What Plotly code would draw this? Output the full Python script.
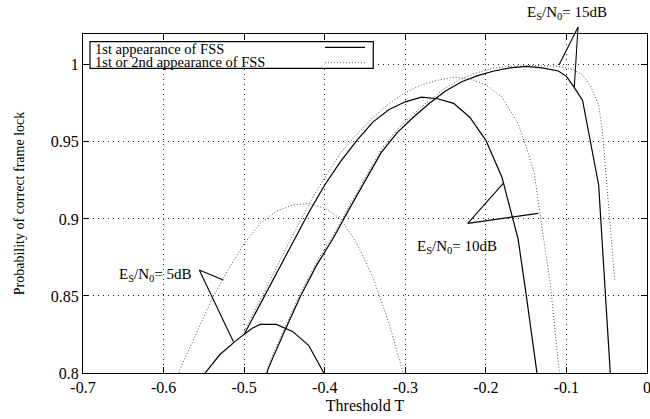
import plotly.graph_objects as go

# ---- data ----
x_5db_first = [-0.56, -0.55, -0.53, -0.51, -0.49, -0.48, -0.46, -0.44, -0.42, -0.40, -0.39]
y_5db_first = [0.790, 0.799, 0.812, 0.821, 0.829, 0.8315, 0.8315, 0.827, 0.818, 0.799, 0.785]

x_5db_either = [-0.59, -0.58, -0.56, -0.54, -0.52, -0.50, -0.48, -0.46, -0.44, -0.42, -0.40,
                -0.38, -0.36, -0.34, -0.32, -0.30, -0.29]
y_5db_either = [0.785, 0.802, 0.825, 0.848, 0.867, 0.884, 0.897, 0.905, 0.909, 0.910, 0.907,
                0.900, 0.884, 0.862, 0.832, 0.795, 0.770]

x_10db_first = [-0.50, -0.48, -0.46, -0.44, -0.42, -0.40, -0.38, -0.36, -0.34, -0.32, -0.30,
                -0.28, -0.26, -0.24, -0.22, -0.20, -0.18, -0.17, -0.16, -0.15, -0.14, -0.13]
y_10db_first = [0.825, 0.845, 0.865, 0.885, 0.904, 0.922, 0.9375, 0.951, 0.963, 0.971, 0.976,
                0.979, 0.978, 0.975, 0.966, 0.951, 0.927, 0.907, 0.887, 0.851, 0.812, 0.775]

x_10db_either = [-0.50, -0.48, -0.46, -0.44, -0.42, -0.40, -0.38, -0.36, -0.34, -0.32, -0.30,
                 -0.28, -0.26, -0.24, -0.22, -0.20, -0.18, -0.16, -0.15, -0.14, -0.13, -0.12,
                 -0.11, -0.10]
y_10db_either = [0.827, 0.848, 0.868, 0.889, 0.909, 0.927, 0.943, 0.955, 0.966, 0.975, 0.982,
                 0.987, 0.990, 0.992, 0.991, 0.987, 0.979, 0.962, 0.947, 0.930, 0.893, 0.858,
                 0.806, 0.770]

x_15db_first = [-0.48, -0.47, -0.45, -0.43, -0.41, -0.39, -0.37, -0.35, -0.33, -0.31, -0.29,
                -0.27, -0.25, -0.23, -0.21, -0.19, -0.17, -0.15, -0.13, -0.11, -0.10, -0.09,
                -0.08, -0.06, -0.045]
y_15db_first = [0.785, 0.803, 0.827, 0.850, 0.870, 0.887, 0.906, 0.925, 0.943, 0.956, 0.966,
                0.975, 0.983, 0.989, 0.993, 0.996, 0.998, 0.999, 0.998, 0.996, 0.9925, 0.985,
                0.977, 0.922, 0.795]

x_15db_either = [-0.48, -0.47, -0.45, -0.43, -0.41, -0.39, -0.37, -0.35, -0.33, -0.31, -0.29,
                 -0.27, -0.25, -0.23, -0.21, -0.19, -0.17, -0.15, -0.13, -0.11, -0.10, -0.09,
                 -0.08, -0.07, -0.06, -0.055, -0.05, -0.045, -0.04]
y_15db_either = [0.787, 0.805, 0.829, 0.852, 0.872, 0.889, 0.908, 0.927, 0.945, 0.958, 0.968,
                 0.977, 0.985, 0.991, 0.995, 0.998, 0.999, 0.9995, 0.9995, 0.999, 0.998, 0.9965,
                 0.9935, 0.986, 0.974, 0.955, 0.925, 0.890, 0.860]

x_ticks = [-0.7, -0.6, -0.5, -0.4, -0.3, -0.2, -0.1, 0]
x_tick_text = ["-0.7", "-0.6", "-0.5", "-0.4", "-0.3", "-0.2", "-0.1", "0"]
y_ticks = [0.8, 0.85, 0.9, 0.95, 1.0]
y_tick_text = ["0.8", "0.85", "0.9", "0.95", "1"]

legend_labels = ["1st appearance of FSS", "1st or 2nd appearance of FSS"]
snr_labels = ["E<sub>S</sub>/N<sub>0</sub>= 5dB", "E<sub>S</sub>/N<sub>0</sub>= 10dB",
              "E<sub>S</sub>/N<sub>0</sub>= 15dB"]

X_RANGE = [-0.7, 0.0]
Y_RANGE = [0.8, 1.02]

FONT = "Liberation Serif, Times New Roman, serif"
SOLID = dict(color="black", width=1.2)
DOTTED = dict(color="#555555", width=1.0, dash="1px,2px")

fig = go.Figure()
for xs, ys in [(x_5db_first, y_5db_first), (x_10db_first, y_10db_first),
               (x_15db_first, y_15db_first)]:
    fig.add_trace(go.Scatter(x=xs, y=ys, mode="lines", line=SOLID,
                             name=legend_labels[0], showlegend=False))
for xs, ys in [(x_5db_either, y_5db_either), (x_10db_either, y_10db_either),
               (x_15db_either, y_15db_either)]:
    fig.add_trace(go.Scatter(x=xs, y=ys, mode="lines", line=DOTTED,
                             name=legend_labels[1], showlegend=False))


def px(x):
    return (x - X_RANGE[0]) / (X_RANGE[1] - X_RANGE[0])


def py(y):
    return (y - Y_RANGE[0]) / (Y_RANGE[1] - Y_RANGE[0])


def pointer(x0, y0, x1, y1):
    fig.add_shape(type="line", xref="paper", yref="paper",
                  x0=px(x0), y0=py(y0), x1=px(x1), y1=py(y1),
                  line=dict(color="black", width=1.1))


def label(x, y, text, xanchor):
    fig.add_annotation(x=px(x), y=py(y), xref="paper", yref="paper", text=text,
                       showarrow=False, xanchor=xanchor, yanchor="middle",
                       font=dict(family=FONT, size=15, color="black"))


# pointer lines from the labels to the curves
pointer(-0.5557, 0.8668, -0.5259, 0.8604)
pointer(-0.5557, 0.8668, -0.5133, 0.8203)
pointer(-0.2225, 0.8971, -0.1784, 0.9231)
pointer(-0.2225, 0.8971, -0.1350, 0.9036)
pointer(-0.0856, 1.0245, -0.1092, 0.9999)
pointer(-0.0856, 1.0245, -0.0902, 0.9858)

label(-0.5631, 0.8635, snr_labels[0], "right")
label(-0.2362, 0.8815, snr_labels[1], "center")
label(-0.0993, 1.0336, snr_labels[2], "center")

# gnuplot-style key box (text left, sample right)
fig.add_shape(type="rect", xref="paper", yref="paper", x0=0.0124, x1=0.5147,
              y0=0.8988, y1=0.9773, line=dict(color="black", width=1.2),
              fillcolor="white", layer="above")
fig.add_annotation(x=0.0172, y=0.9545, xref="paper", yref="paper", text=legend_labels[0],
                   showarrow=False, xanchor="left", yanchor="middle",
                   font=dict(family=FONT, size=14.5, color="black"))
fig.add_annotation(x=0.0172, y=0.9170, xref="paper", yref="paper", text=legend_labels[1],
                   showarrow=False, xanchor="left", yanchor="middle",
                   font=dict(family=FONT, size=14.5, color="black"))
fig.add_shape(type="line", xref="paper", yref="paper", x0=0.429, x1=0.50,
              y0=0.9608, y1=0.9608, line=SOLID, layer="above")
fig.add_shape(type="line", xref="paper", yref="paper", x0=0.429, x1=0.50,
              y0=0.9153, y1=0.9153, line=DOTTED, layer="above")

axis_common = dict(showline=True, linecolor="black", linewidth=1.2, mirror="ticks",
                   ticks="inside", ticklen=6, tickcolor="black",
                   showgrid=True, gridcolor="#222222", griddash="1px,4px", gridwidth=1,
                   zeroline=False, ticklabeloverflow="allow",
                   tickfont=dict(family=FONT, size=16, color="black"))

fig.update_xaxes(range=X_RANGE, tickvals=x_ticks, ticktext=x_tick_text,
                 title=dict(text="Threshold T", font=dict(family=FONT, size=16, color="black"),
                            standoff=4),
                 **axis_common)
fig.update_yaxes(range=Y_RANGE, tickvals=y_ticks, ticktext=y_tick_text,
                 title=dict(text="Probability of correct frame lock",
                            font=dict(family=FONT, size=14, color="black"), standoff=22),
                 **axis_common)

fig.update_layout(width=650, height=419, margin=dict(l=83, r=3, t=34, b=46, autoexpand=False),
                  plot_bgcolor="white", paper_bgcolor="white", showlegend=False,
                  font=dict(family=FONT, color="black"))

fig.write_html("out.html", config={"displayModeBar": False},
               post_script="document.body.style.margin='0';document.body.style.overflow='hidden';")
